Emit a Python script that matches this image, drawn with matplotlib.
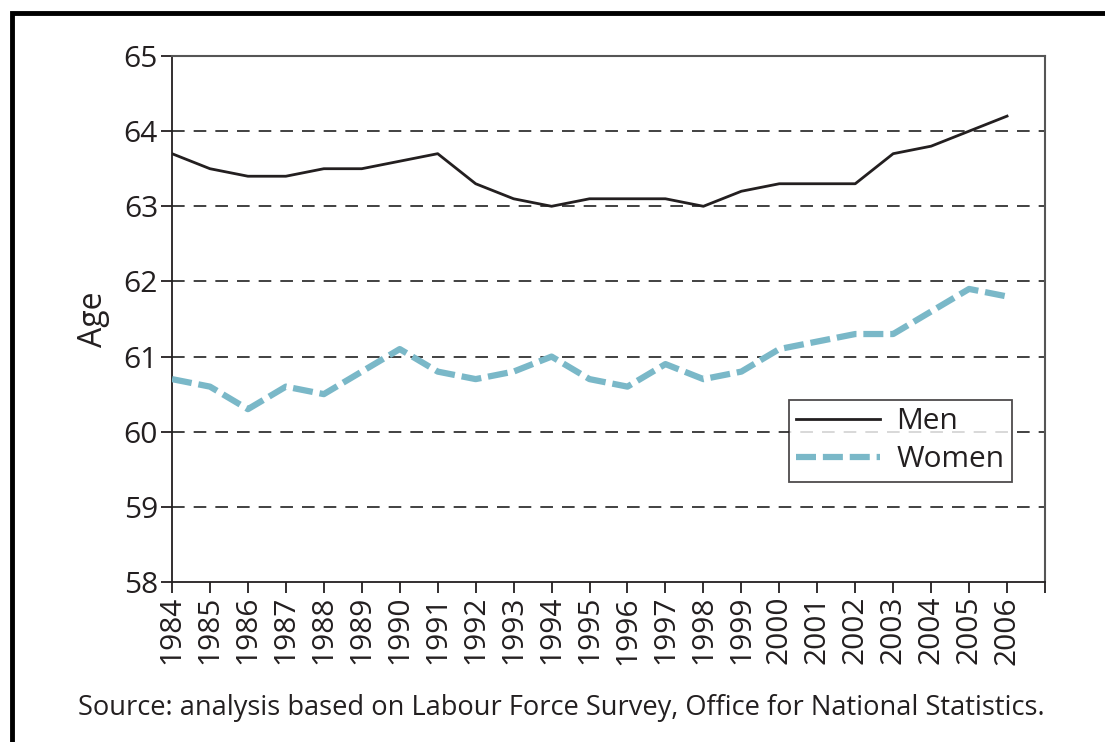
import matplotlib
matplotlib.use("Agg")
import matplotlib.pyplot as plt
from matplotlib.patches import Rectangle

# data
years = list(range(1984, 2007))
men = [63.7, 63.5, 63.4, 63.4, 63.5, 63.5, 63.6, 63.7, 63.3, 63.1, 63.0, 63.1,
       63.1, 63.1, 63.0, 63.2, 63.3, 63.3, 63.3, 63.7, 63.8, 64.0, 64.2]
women = [60.7, 60.6, 60.3, 60.6, 60.5, 60.8, 61.1, 60.8, 60.7, 60.8, 61.0, 60.7,
         60.6, 60.9, 60.7, 60.8, 61.1, 61.2, 61.3, 61.3, 61.6, 61.9, 61.8]
year_labels = [str(y) for y in years]
source_text = "Source: analysis based on Labour Force Survey, Office for National Statistics."

plt.rcParams['font.family'] = ['Open Sans', 'DejaVu Sans']

fig = plt.figure(figsize=(11.05, 7.42), dpi=100)
W, H = 1105, 742
ax = fig.add_axes([172 / W, 1 - 582 / H, (1045 - 172) / W, (582 - 56) / H])

x = list(range(len(years)))
ax.plot(x, men, color='#231f20', lw=2.0, label='Men', zorder=3)
ax.plot(x, women, color='#7ab8c8', lw=4.5, ls=(0, (3.2, 1.1)), label='Women', zorder=3)

ax.set_xlim(0, len(years))
ax.set_ylim(58, 65)
ax.set_yticks(range(58, 66))
ax.set_xticks(range(len(years) + 1))
ax.set_xticklabels(year_labels + [''], rotation=90)

for v in range(59, 65):
    ax.axhline(v, color='#333333', lw=1.3, ls=(0, (7, 5)), zorder=1)

for s in ['top', 'right']:
    ax.spines[s].set_color('#555555')
    ax.spines[s].set_linewidth(1.5)
for s in ['left', 'bottom']:
    ax.spines[s].set_color('#231f20')
    ax.spines[s].set_linewidth(1.3)

ax.tick_params(axis='both', direction='out', length=8, width=1.3, color='#231f20',
               labelsize=21.5, labelcolor='#231f20', pad=2)
ax.set_ylabel('Age', fontsize=23, color='#231f20', labelpad=10)

leg = ax.legend(loc='upper left', bbox_to_anchor=((789 - 172) / 873, 1 - (400 - 56) / 526),
                fontsize=21.5, frameon=True, fancybox=False, handlelength=2.8,
                borderpad=0.25, labelspacing=0.3, handletextpad=0.55, borderaxespad=0)
leg.get_frame().set_edgecolor('#231f20')
leg.get_frame().set_linewidth(1.3)
for t in leg.get_texts():
    t.set_color('#231f20')

fig.text(78 / W, 1 - 708 / H, source_text, fontsize=19.6, color='#231f20',
         ha='left', va='center')

# outer frame (runs off the right and bottom of the image)
fig.patches.append(Rectangle((12 / W, -0.05), 1.2, 1 - 13 / H + 0.05,
                             transform=fig.transFigure, fill=False,
                             edgecolor='black', linewidth=3.5))

fig.savefig('out.png', dpi=100)
